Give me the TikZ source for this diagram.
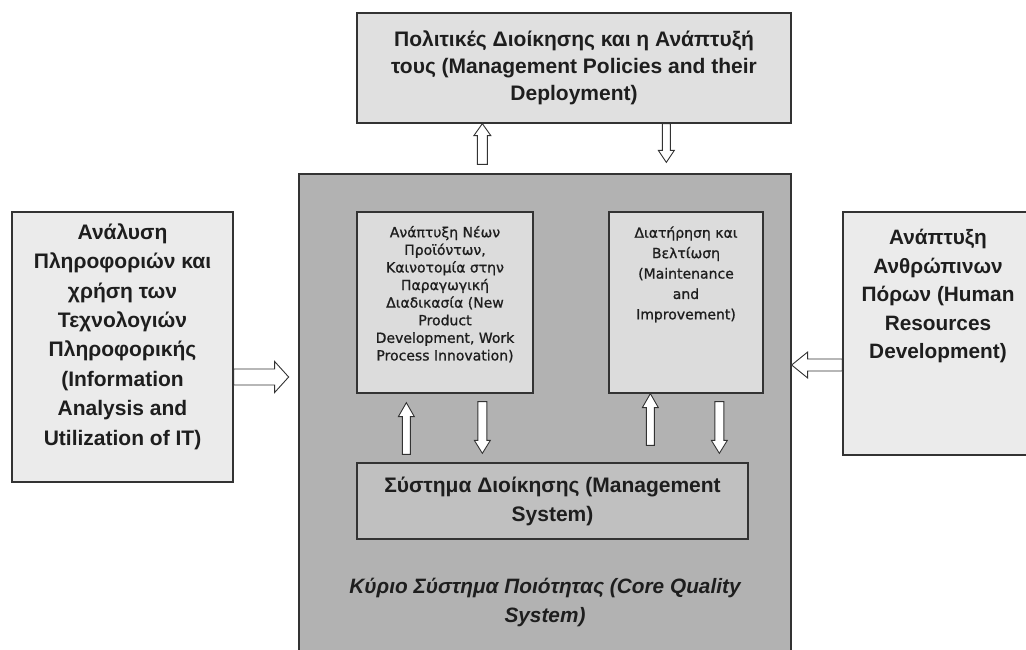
\documentclass[tikz,border=0pt]{standalone}
\usepackage{fontspec}
\setmainfont{Liberation Sans}
\newfontfamily\innerfont[FakeBold=1]{DejaVu Sans}
\usepackage{tikz}
\usetikzlibrary{calc, positioning}
\definecolor{edge}{HTML}{333333}
\definecolor{ink}{HTML}{1E1E1E}
\definecolor{topfill}{HTML}{E0E0E0}
\definecolor{sidefill}{HTML}{EBEBEB}
\definecolor{corefill}{HTML}{B2B2B2}
\definecolor{innerfill}{HTML}{DCDCDC}
\definecolor{mgmtfill}{HTML}{C0C0C0}
\tikzset{
  box/.style = {draw=edge, line width=1.3pt, inner sep=0pt, text=ink,
    align=center},
  txt/.style = {align=center, inner sep=0pt, text=ink},
  bigtext/.style = {txt, font=\bfseries\fontsize{20.8pt}{28.5pt}\selectfont},
  smalltext/.style = {txt, font=\innerfont\fontsize{14pt}{17.6pt}\selectfont},
  blockarr/.style = {draw=edge, fill=white, line width=0.9pt, line join=miter}
}
% hollow block arrow: start, tip, shaft half width, head half width, head length
\newcommand{\blockarrow}[5]{%
  \coordinate (ba-h) at ($(#2)!#5!(#1)$);
  \draw[blockarr] ($(#1)!#3!90:(#2)$) -- ($(ba-h)!#3!90:(#2)$)
    -- ($(ba-h)!#4!90:(#2)$) -- (#2) -- ($(ba-h)!#4!-90:(#2)$)
    -- ($(ba-h)!#3!-90:(#2)$) -- ($(#1)!#3!-90:(#2)$) -- cycle;
}

\begin{document}
\begin{tikzpicture}[x=1pt, y=-1pt]
\clip (0,0) rectangle (1026,650);
\fill[white] (0,0) rectangle (1026,650);

\node[box, fill=topfill, minimum width=434pt, minimum height=110pt,
  font=\bfseries\fontsize{21pt}{27pt}\selectfont] (policy) at (574,68)
  {Πολιτικές Διοίκησης και η Ανάπτυξή\\τους (Management Policies and their\\Deployment)};
\node[box, fill=corefill, minimum width=492pt, minimum height=486pt] (core) at (545,417) {};
\node[box, fill=sidefill, minimum width=221pt, minimum height=270pt] (infotech) at (122.5,347) {};
\node[box, fill=sidefill, minimum width=190pt, minimum height=243pt] (humanres) at (938,333.5) {};
\node[box, fill=innerfill, minimum width=176pt, minimum height=181pt] (newprod) at (445,302.5) {};
\node[box, fill=innerfill, minimum width=154pt, minimum height=181pt] (maint) at (686,302.5) {};
\node[box, fill=mgmtfill, minimum width=391pt, minimum height=76pt,
  font=\bfseries\fontsize{21pt}{29pt}\selectfont] (mgmtsys) at (552.5,501)
  {Σύστημα Διοίκησης (Management\\System)};

\node[bigtext, below=12pt of infotech.north, font=\bfseries\fontsize{21pt}{29.4pt}\selectfont] (infotech-txt)
  {Ανάλυση\\Πληροφοριών και\\χρήση των\\Τεχνολογιών\\Πληροφορικής\\(Information\\Analysis and\\Utilization of IT)};
\node[bigtext, below=18pt of humanres.north] (humanres-txt)
  {Ανάπτυξη\\Ανθρώπινων\\Πόρων (Human\\Resources\\Development)};
\node[smalltext, below=14.5pt of newprod.north] (newprod-txt)
  {Ανάπτυξη Νέων\\Προϊόντων,\\Καινοτομία στην\\Παραγωγική\\Διαδικασία (New\\Product\\Development, Work\\Process Innovation)};
\node[smalltext, below=15pt of maint.north, font=\innerfont\fontsize{14pt}{20.4pt}\selectfont] (maint-txt)
  {Διατήρηση και\\Βελτίωση\\(Maintenance\\and\\Improvement)};
\node[bigtext, font=\bfseries\itshape\fontsize{20.8pt}{29pt}\selectfont] (coreq) at (545,602.5)
  {Κύριο Σύστημα Ποιότητας (Core Quality\\System)};

\coordinate (up-pol-s) at ($(core.north west)+(184,-9)$);
\coordinate (up-pol-t) at (policy.south -| up-pol-s);
\coordinate (dn-pol-s) at ($(policy.south west)+(310,0)$);
\coordinate (dn-pol-t) at ($(core.north -| dn-pol-s)+(0,-11)$);
\coordinate (info-s) at ($(infotech.east)+(0,30)$);
\coordinate (info-t) at ($(info-s)+(55,0)$);
\coordinate (hr-s) at ($(humanres.west)+(0,31.5)$);
\coordinate (hr-t) at (core.east |- hr-s);
\coordinate (up-np-s) at ($(mgmtsys.north west)+(50,-8)$);
\coordinate (up-np-t) at ($(newprod.south -| up-np-s)+(0,9)$);
\coordinate (dn-np-s) at ($(newprod.south west)+(126,8)$);
\coordinate (dn-np-t) at ($(mgmtsys.north -| dn-np-s)+(0,-9)$);
\coordinate (up-mt-s) at ($(mgmtsys.north west)+(294,-17)$);
\coordinate (up-mt-t) at (maint.south -| up-mt-s);
\coordinate (dn-mt-s) at ($(maint.south west)+(111,8)$);
\coordinate (dn-mt-t) at ($(mgmtsys.north -| dn-mt-s)+(0,-9)$);

\blockarrow{up-pol-s}{up-pol-t}{5pt}{8.5pt}{12pt}
\blockarrow{dn-pol-s}{dn-pol-t}{4pt}{8pt}{12pt}
\blockarrow{info-s}{info-t}{8pt}{15.5pt}{14pt}
\blockarrow{hr-s}{hr-t}{6pt}{13pt}{16pt}
\blockarrow{up-np-s}{up-np-t}{4pt}{8pt}{14pt}
\blockarrow{dn-np-s}{dn-np-t}{4.5pt}{8pt}{13pt}
\blockarrow{up-mt-s}{up-mt-t}{4pt}{8pt}{14pt}
\blockarrow{dn-mt-s}{dn-mt-t}{4.5pt}{8pt}{13pt}
\end{tikzpicture}
\end{document}
